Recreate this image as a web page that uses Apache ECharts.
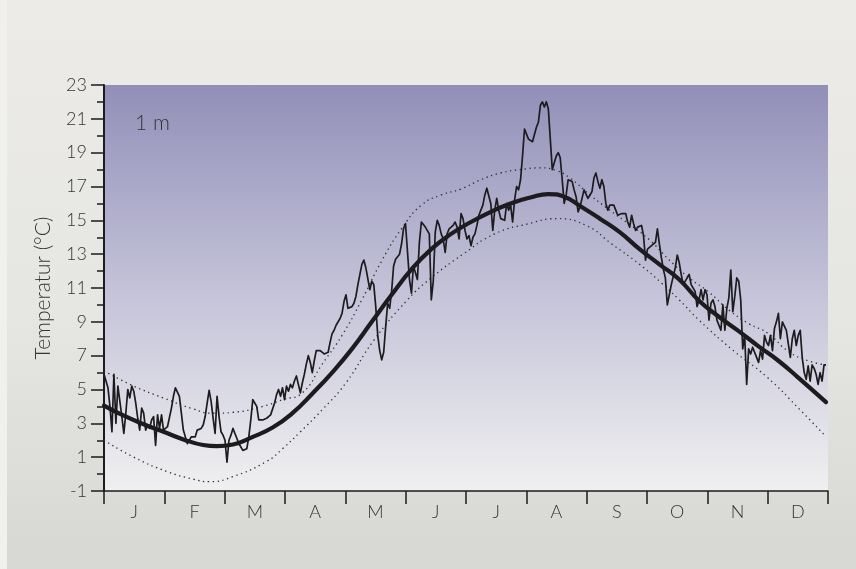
<!DOCTYPE html>
<html>
<head>
<meta charset="utf-8">
<script src="https://cdn.jsdelivr.net/npm/echarts@6/dist/echarts.min.js"></script>
<style>
  html, body { margin: 0; padding: 0; }
  #wrap { position: relative; width: 856px; height: 569px; background: #f0f0ee; overflow: hidden; }
  #panel { position: absolute; left: 7px; top: 0; right: 0; bottom: 0;
           background: linear-gradient(to bottom, #ecebe8 0%, #e6e6e2 55%, #d7d7d3 100%); }
  #chart { position: absolute; left: 0; top: 0; width: 856px; height: 569px; }
</style>
</head>
<body>
<div id="wrap">
  <div id="panel"></div>
  <div id="chart"></div>
</div>
<script>
// Month initials along the bottom axis
const months = ['J', 'F', 'M', 'A', 'M', 'J', 'J', 'A', 'S', 'O', 'N', 'D'];

// Daily soil temperature at 1 m depth (°C), day 0 = 1 January
const dailyTemp = [
  5.9, 5.5, 5.1, 4.0, 2.5, 5.9, 3.0, 5.2, 4.3, 3.4,
  2.4, 3.6, 5.0, 4.5, 5.2, 4.9, 4.2, 3.3, 2.6, 3.9,
  3.6, 2.6, 2.9, 2.7, 3.2, 3.4, 1.7, 3.5, 2.7, 3.5,
  2.6, 2.7, 2.8, 2.9, 3.9, 4.6, 5.1, 5.0, 4.6, 3.6,
  2.6, 2.2, 1.8, 2.0, 2.2, 2.3, 2.2, 2.6, 2.7, 2.7,
  2.9, 3.4, 4.2, 4.95, 4.3, 3.3, 2.4, 4.6, 3.4, 2.5,
  2.3, 2.0, 0.7, 2.0, 2.3, 2.7, 2.4, 2.1, 1.8, 1.6,
  1.4, 1.4, 1.5, 2.2, 3.2, 4.4, 4.2, 4.0, 3.2, 3.2,
  3.2, 3.2, 3.3, 3.3, 3.5, 3.6, 4.2, 4.7, 5.0, 4.6,
  5.1, 4.4, 5.2, 4.9, 5.3, 5.1, 5.5, 5.8, 5.8, 4.8,
  5.4, 5.9, 6.5, 7.0, 6.6, 6.0, 6.7, 7.3, 7.4, 7.3,
  7.2, 7.1, 7.0, 7.2, 7.8, 8.3, 8.5, 8.8, 8.7, 9.2,
  9.5, 10.2, 10.6, 9.8, 9.8, 9.9, 10.1, 10.5, 11.2, 11.8,
  12.4, 12.65, 12.2, 12.2, 10.9, 11.4, 11.2, 9.9, 8.2, 7.3,
  6.75, 7.2, 8.7, 10.1, 9.8, 10.8, 12.3, 12.7, 12.6, 13.0,
  13.6, 14.5, 14.8, 14.7, 11.5, 10.7, 12.3, 12.4, 11.5, 13.7,
  14.9, 15.0, 14.6, 14.5, 14.2, 10.3, 11.4, 14.3, 15.0, 14.7,
  14.2, 13.9, 13.1, 14.2, 14.5, 14.6, 14.7, 14.9, 14.6, 13.9,
  15.4, 15.1, 14.4, 13.9, 14.1, 13.5, 14.0, 14.2, 14.7, 15.3,
  15.6, 15.9, 16.5, 16.9, 16.8, 16.0, 14.4, 15.6, 16.3, 15.6,
  15.1, 15.1, 15.0, 16.0, 15.6, 15.9, 14.9, 16.2, 17.0, 16.8,
  17.4, 18.8, 20.4, 20.3, 19.8, 19.85, 19.65, 19.75, 20.5, 20.8,
  21.8, 22.0, 21.7, 22.0, 21.6, 19.8, 18.0, 17.9, 18.8, 19.0,
  18.7, 17.4, 16.0, 16.5, 17.4, 17.45, 17.3, 16.8, 16.4, 15.5,
  15.8, 16.3, 16.8, 16.9, 16.3, 16.5, 16.7, 17.5, 17.8, 17.3,
  16.9, 17.4, 17.0, 16.0, 15.6, 15.9, 15.8, 15.9, 15.6, 15.3,
  15.4, 15.4, 15.3, 15.4, 14.9, 14.6, 15.3, 14.8, 14.4, 14.6,
  14.6, 14.7, 14.1, 12.65, 13.3, 13.4, 13.5, 13.6, 13.7, 14.5,
  13.6, 12.8, 12.1, 11.6, 10.0, 10.6, 11.2, 11.3, 12.2, 12.95,
  12.5, 11.8, 11.2, 11.1, 11.6, 11.8, 11.2, 11.1, 10.8, 9.9,
  10.3, 10.9, 10.3, 10.9, 10.6, 9.1, 10.1, 10.3, 9.9, 9.1,
  9.0, 8.5, 10.0, 8.5, 9.8, 10.4, 12.06, 9.6, 10.5, 11.6,
  11.4, 10.3, 7.4, 8.2, 5.3, 7.4, 7.1, 7.5, 7.6, 6.9,
  6.6, 7.3, 6.8, 8.2, 7.8, 7.6, 8.2, 7.3, 8.6, 9.0,
  9.5, 8.0, 9.0, 9.1, 8.5, 7.7, 6.9, 8.0, 8.5, 7.6,
  8.2, 8.5, 6.9, 6.0, 5.6, 6.4, 5.5, 6.45, 6.25, 5.9,
  5.3, 6.0, 5.5, 6.45, 6.45
];

// Long-term mean curve (day of year, °C)
const meanDays = [0, 10, 20, 30, 40, 50, 57, 65, 75, 85, 95, 105, 115, 125, 135, 145, 155, 165, 175, 185, 195, 205, 215, 224, 232, 240, 250, 260, 270, 280, 290, 300, 310, 320, 330, 340, 350, 364];
const meanTemp = [4.05, 3.45, 2.95, 2.5, 2.05, 1.72, 1.65, 1.75, 2.2, 2.75, 3.6, 4.75, 6.0, 7.4, 9.0, 10.6, 12.1, 13.3, 14.2, 14.9, 15.5, 16.0, 16.35, 16.55, 16.4, 15.85, 15.1, 14.3, 13.3, 12.4, 11.5, 10.25, 9.3, 8.45, 7.55, 6.7, 5.7, 4.25];

// Upper envelope (day of year, °C)
const upperDays = [0, 15, 30, 45, 55, 65, 80, 90, 100, 110, 120, 130, 140, 150, 160, 170, 180, 190, 200, 210, 220, 228, 235, 245, 255, 265, 275, 285, 295, 305, 315, 325, 335, 345, 355, 364];
const upperTemp = [6.1, 5.2, 4.5, 3.85, 3.6, 3.65, 4.0, 4.4, 4.8, 6.5, 8.2, 10.3, 12.6, 14.5, 15.9, 16.5, 16.85, 17.4, 17.8, 18.0, 18.1, 17.95, 17.5, 16.5, 15.6, 14.75, 13.85, 12.65, 11.6, 10.75, 9.7, 8.9, 8.3, 7.25, 6.7, 6.45];

// Lower envelope (day of year, °C)
const lowerDays = [0, 15, 32, 45, 53, 65, 82, 90, 99, 110, 122, 136, 153, 165, 181, 197, 214, 228, 243, 256, 270, 281, 290, 300, 317, 334, 351, 364];
const lowerTemp = [2.0, 1.0, 0.14, -0.3, -0.45, -0.15, 0.75, 1.5, 2.5, 3.8, 5.4, 7.9, 10.3, 11.6, 13.0, 14.2, 14.8, 15.1, 14.7, 13.6, 12.4, 11.3, 10.3, 9.1, 7.33, 5.76, 3.79, 2.21];

const yMin = -1, yMax = 23, yStep = 2;
const dayMax = 365;

const pairs = (xs, ys) => xs.map((x, i) => [x, ys[i]]);

const ink = '#1d1b1e';
const textColor = '#353535';
const font = 'Lato, "Open Sans", sans-serif';

const chart = echarts.init(document.getElementById('chart'), null, { renderer: 'canvas' });

chart.setOption({
  animation: false,
  backgroundColor: 'transparent',
  grid: {
    left: 104, right: 28, top: 85, bottom: 78,
    show: true,
    borderWidth: 0,
    backgroundColor: new echarts.graphic.LinearGradient(0, 0, 0, 1, [
      { offset: 0, color: '#928fb8' },
      { offset: 0.5, color: '#c3c2d8' },
      { offset: 1, color: '#f0f0f1' }
    ])
  },
  graphic: [{
    type: 'text',
    left: 135, top: 113,
    silent: true,
    style: { text: '1 m', font: '300 21px ' + font, fill: textColor }
  }],
  xAxis: [{
    type: 'category',
    data: months,
    boundaryGap: true,
    position: 'bottom',
    axisLine: { show: true, onZero: false, lineStyle: { color: ink, width: 1.5 } },
    axisTick: { show: true, length: 13, alignWithLabel: false, lineStyle: { color: ink, width: 1.5 } },
    axisLabel: { margin: 12, fontSize: 18, fontFamily: font, fontWeight: 300, color: textColor },
    splitLine: { show: false }
  }, {
    type: 'value',
    min: 0, max: dayMax,
    show: false,
    axisLine: { onZero: false }
  }],
  yAxis: {
    type: 'value',
    min: yMin, max: yMax, interval: yStep,
    name: 'Temperatur (°C)',
    nameLocation: 'middle',
    nameGap: 50,
    nameTextStyle: { fontSize: 21, fontFamily: font, fontWeight: 300, color: textColor },
    axisLine: { show: true, onZero: false, lineStyle: { color: ink, width: 2 } },
    axisTick: { show: true, length: 13, lineStyle: { color: ink, width: 1.5 } },
    minorTick: { show: true, splitNumber: 2, length: 7, lineStyle: { color: ink, width: 1.5 } },
    axisLabel: { margin: 17, fontSize: 18, fontFamily: font, fontWeight: 300, color: textColor },
    splitLine: { show: false },
    minorSplitLine: { show: false }
  },
  series: [{
    name: 'upper',
    type: 'line',
    xAxisIndex: 1,
    data: pairs(upperDays, upperTemp),
    smooth: 0.5,
    showSymbol: false,
    silent: true,
    lineStyle: { color: '#2c2b30', width: 1.3, type: [1.3, 3.6] },
    z: 2
  }, {
    name: 'lower',
    type: 'line',
    xAxisIndex: 1,
    data: pairs(lowerDays, lowerTemp),
    smooth: 0.5,
    showSymbol: false,
    silent: true,
    lineStyle: { color: '#2c2b30', width: 1.3, type: [1.3, 3.6] },
    z: 2
  }, {
    name: 'mean',
    type: 'line',
    xAxisIndex: 1,
    data: pairs(meanDays, meanTemp),
    smooth: 0.5,
    showSymbol: false,
    silent: true,
    lineStyle: { color: ink, width: 4.2, cap: 'round' },
    z: 3
  }, {
    name: 'daily',
    type: 'line',
    xAxisIndex: 1,
    data: dailyTemp.map((v, i) => [i, v]),
    showSymbol: false,
    silent: true,
    lineStyle: { color: ink, width: 1.7, join: 'round' },
    z: 4
  }]
});
</script>
</body>
</html>
